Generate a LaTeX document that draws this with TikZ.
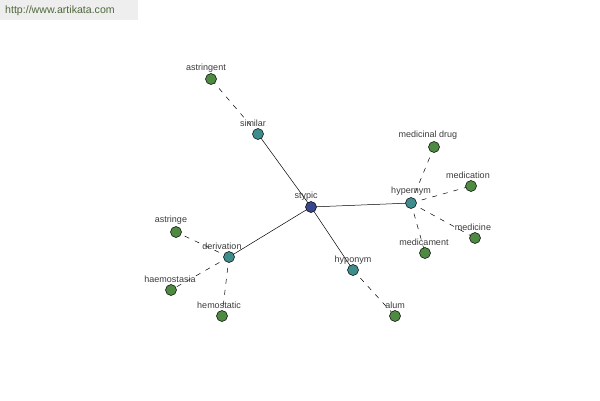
\documentclass[tikz,border=0pt]{standalone}
\usepackage{fontspec}
\setmainfont{Liberation Sans}
\begin{document}
\begin{tikzpicture}[x=1pt,y=-1pt,
  dot/.style={circle,draw=black,line width=0.5pt,minimum size=11pt,inner sep=0pt},
  gdot/.style={dot,fill=leafgreen},
  tdot/.style={dot,fill=relteal},
  bdot/.style={dot,fill=rootblue},
  lbl/.style={font=\fontsize{9}{10}\selectfont,text=labgray,inner sep=0pt},
  solidedge/.style={draw=black,line width=0.5pt},
  dashedge/.style={draw=black,line width=0.5pt,dash pattern=on 5pt off 6pt}]
\definecolor{leafgreen}{RGB}{78,138,66}
\definecolor{relteal}{RGB}{62,140,140}
\definecolor{rootblue}{RGB}{58,70,140}
\definecolor{labgray}{RGB}{60,60,60}
\definecolor{hdrbg}{RGB}{238,238,238}
\definecolor{hdrtext}{RGB}{80,105,60}
\useasboundingbox[fill=white] (0,0) rectangle (600,400);
\fill[hdrbg] (0,0) rectangle (138,20);
\node[anchor=west,font=\fontsize{10.6}{12}\selectfont,text=hdrtext,inner sep=0pt] (hdr) at (5,11) {http://www.artikata.com};
% nodes
\coordinate (pS) at (311,207);
\coordinate (pSim) at (258,134);
\coordinate (pAst) at (211,79);
\coordinate (pHyp) at (411,203);
\coordinate (pMd) at (434,147);
\coordinate (pMn) at (471,186);
\coordinate (pMe) at (475,238);
\coordinate (pMt) at (425,253);
\coordinate (pDer) at (229,257);
\coordinate (pAse) at (176,232);
\coordinate (pHae) at (171,290);
\coordinate (pHem) at (222,316);
\coordinate (pHpo) at (353,270);
\coordinate (pAlum) at (395,316);
% edges
\draw[solidedge] (pS) -- (pSim);
\draw[solidedge] (pS) -- (pHyp);
\draw[solidedge] (pS) -- (pDer);
\draw[solidedge] (pS) -- (pHpo);
\draw[dashedge] (pSim) -- (pAst);
\draw[dashedge] (pHyp) -- (pMd);
\draw[dashedge] (pHyp) -- (pMn);
\draw[dashedge] (pHyp) -- (pMe);
\draw[dashedge] (pHyp) -- (pMt);
\draw[dashedge] (pDer) -- (pAse);
\draw[dashedge] (pDer) -- (pHae);
\draw[dashedge] (pDer) -- (pHem);
\draw[dashedge] (pHpo) -- (pAlum);
% dots
\node[bdot] (stypic) at (pS) {};
\node[tdot] (similar) at (pSim) {};
\node[gdot] (astringent) at (pAst) {};
\node[tdot] (hypernym) at (pHyp) {};
\node[gdot] (meddrug) at (pMd) {};
\node[gdot] (medication) at (pMn) {};
\node[gdot] (medicine) at (pMe) {};
\node[gdot] (medicament) at (pMt) {};
\node[tdot] (derivation) at (pDer) {};
\node[gdot] (astringe) at (pAse) {};
\node[gdot] (haemostasia) at (pHae) {};
\node[gdot] (hemostatic) at (pHem) {};
\node[tdot] (hyponym) at (pHpo) {};
\node[gdot] (alum) at (pAlum) {};
% labels
\node[lbl] (l1) at (306,196) {stypic};
\node[lbl] (l2) at (253,123) {similar};
\node[lbl] (l3) at (206,68) {astringent};
\node[lbl] (l4) at (411,191) {hypernym};
\node[lbl] (l5) at (428,135) {medicinal drug};
\node[lbl] (l6) at (468,175) {medication};
\node[lbl] (l7) at (473,227) {medicine};
\node[lbl] (l8) at (424,242) {medicament};
\node[lbl] (l9) at (222,246) {derivation};
\node[lbl] (l10) at (171,220) {astringe};
\node[lbl] (l11) at (170,279) {haemostasia};
\node[lbl] (l12) at (219,305) {hemostatic};
\node[lbl] (l13) at (353,260) {hyponym};
\node[lbl] (l14) at (395,305) {alum};
\end{tikzpicture}
\end{document}
